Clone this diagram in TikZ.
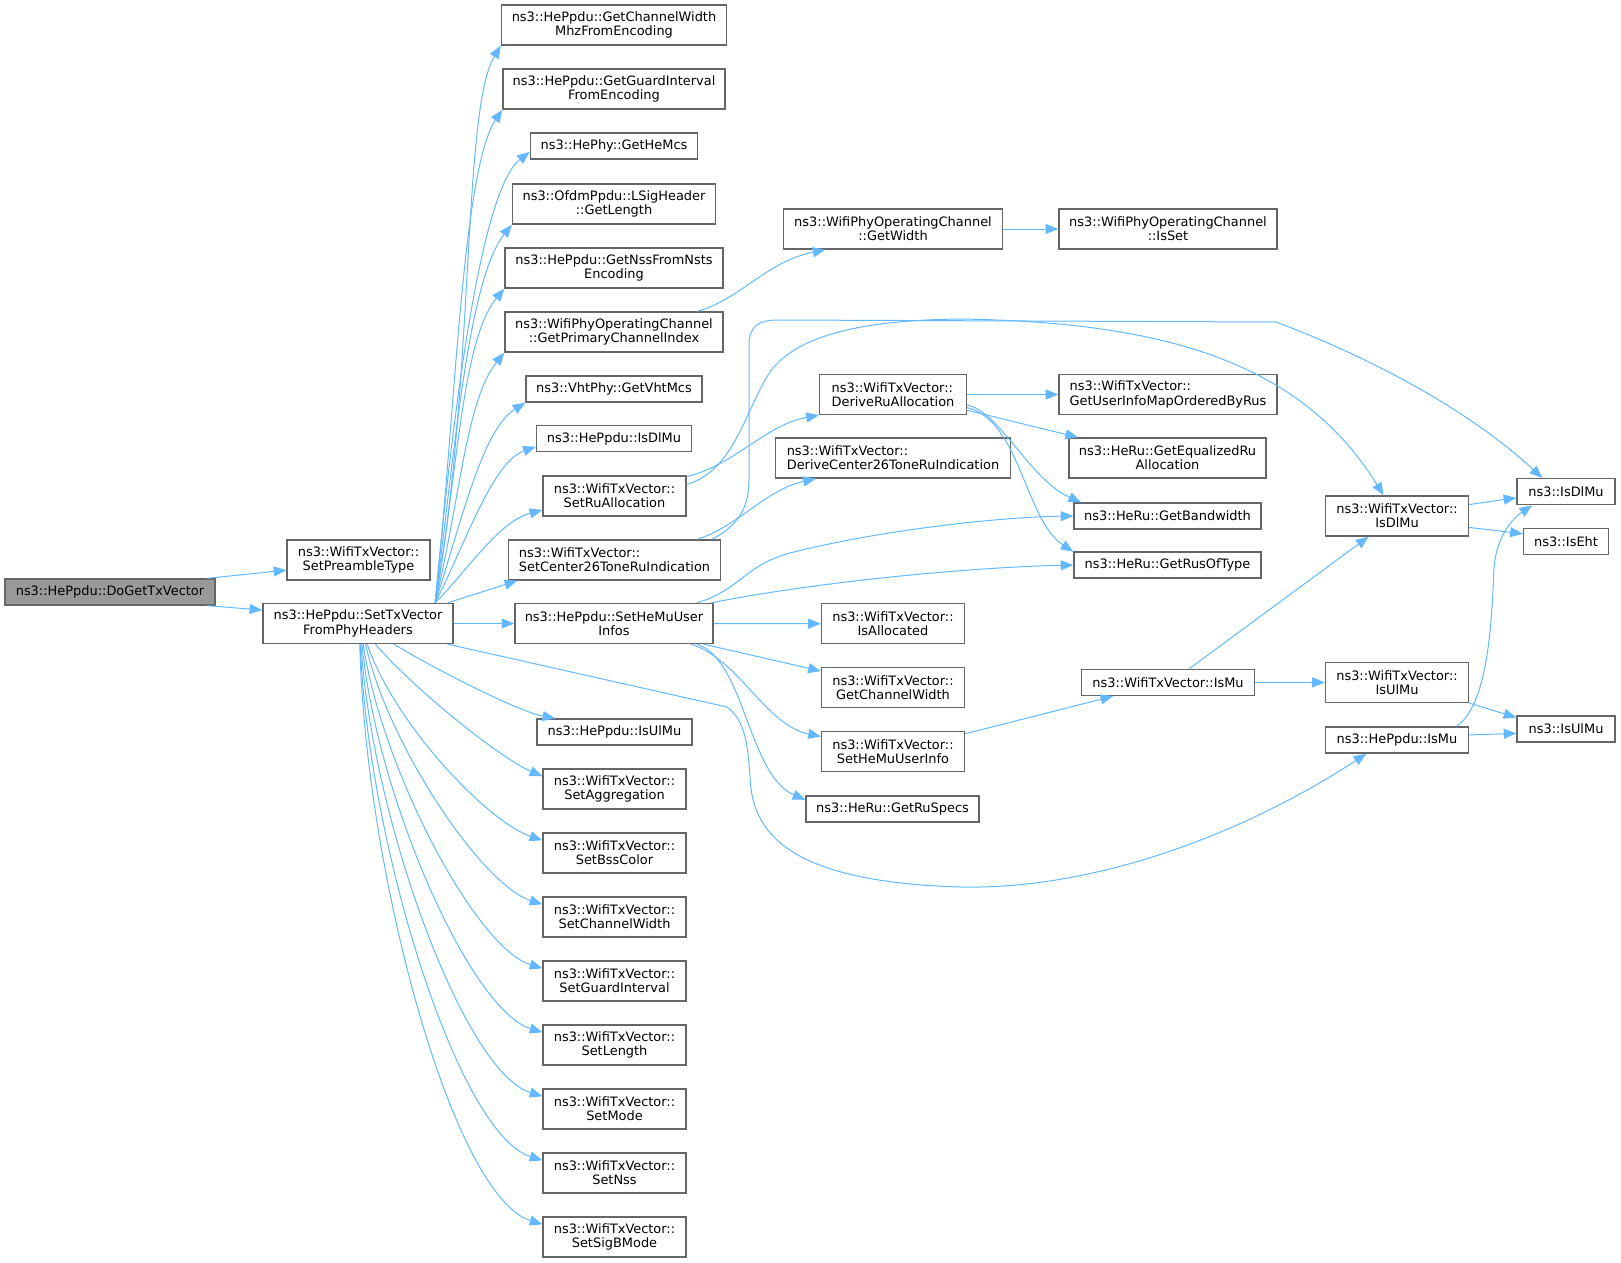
\documentclass[tikz,border=0pt]{standalone}
\usepackage{fontspec}
\setmainfont{DejaVu Sans}
\usetikzlibrary{arrows.meta}
\definecolor{edgeblue}{HTML}{63B8FF}
\definecolor{boxline}{HTML}{666666}
\definecolor{rootfill}{HTML}{999999}
\tikzset{
fn/.style={draw=boxline,line width=1pt,fill=white,align=center,inner sep=0pt,minimum height=30pt,font=\fontsize{9.7pt}{10.7pt}\selectfont},
one/.style={minimum height=19.5pt},
wd/.style={minimum width=#1*0.75pt},
call/.style={draw=edgeblue,line width=.75pt,-{Triangle[length=9.5pt,width=7.5pt]}}
}
\begin{document}
\begin{tikzpicture}[x=0.75pt,y=-0.75pt]
\useasboundingbox (0,0) rectangle (1621,1263);
\node[fn,one,wd=210,fill=rootfill] (dogettx) at (110,592) {ns3::HePpdu::DoGetTxVector};
\node[fn,wd=143] (setpre) at (358.5,560) {ns3::WifiTxVector::\\SetPreambleType};
\node[fn,wd=190] (settxv) at (358,623.5) {ns3::HePpdu::SetTxVector\\FromPhyHeaders};
\node[fn,wd=225] (chwmhz) at (614,25) {ns3::HePpdu::GetChannelWidth\\MhzFromEncoding};
\node[fn,wd=222] (guardenc) at (614,89) {ns3::HePpdu::GetGuardInterval\\FromEncoding};
\node[fn,one,wd=167] (hemcs) at (614,146) {ns3::HePhy::GetHeMcs};
\node[fn,wd=203] (lsig) at (614,204) {ns3::OfdmPpdu::LSigHeader\\::GetLength};
\node[fn,wd=218] (nssenc) at (614,268) {ns3::HePpdu::GetNssFromNsts\\Encoding};
\node[fn,wd=218] (primch) at (614,332) {ns3::WifiPhyOperatingChannel\\::GetPrimaryChannelIndex};
\node[fn,one,wd=176] (vhtmcs) at (614,389) {ns3::VhtPhy::GetVhtMcs};
\node[fn,one,wd=155] (hedlmu) at (614,438.5) {ns3::HePpdu::IsDlMu};
\node[fn,wd=143] (setru) at (614.5,496) {ns3::WifiTxVector::\\SetRuAllocation};
\node[fn,wd=212,align=left] (setc26) at (614.5,560) {ns3::WifiTxVector::\\SetCenter26ToneRuIndication};
\node[fn,wd=198] (sethemuinfos) at (614,623.5) {ns3::HePpdu::SetHeMuUser\\Infos};
\node[fn,one,wd=155] (heulmu) at (614.5,732) {ns3::HePpdu::IsUlMu};
\foreach \nm/\txt [count=\i from 0] in {setagg/SetAggregation,setbss/SetBssColor,setchw/SetChannelWidth,setgi/SetGuardInterval,setlen/SetLength,setmode/SetMode,setnss/SetNss,setsigb/SetSigBMode}
  \node[fn,wd=143] (\nm) at (614.5,789+64*\i) {ns3::WifiTxVector::\\\txt};
\node[fn,wd=219] (getwidth) at (893,229) {ns3::WifiPhyOperatingChannel\\::GetWidth};
\node[fn,wd=147,align=left] (derivru) at (893,394.5) {ns3::WifiTxVector::\\DeriveRuAllocation};
\node[fn,wd=235,align=left] (derivc26) at (893,458) {ns3::WifiTxVector::\\DeriveCenter26ToneRuIndication};
\node[fn,wd=143] (isalloc) at (893,623.7) {ns3::WifiTxVector::\\IsAllocated};
\node[fn,wd=143] (getchw) at (893,687.7) {ns3::WifiTxVector::\\GetChannelWidth};
\node[fn,wd=143] (sethemuinfo) at (893,751.8) {ns3::WifiTxVector::\\SetHeMuUserInfo};
\node[fn,one,wd=173] (getruspecs) at (892.5,809) {ns3::HeRu::GetRuSpecs};
\node[fn,wd=218] (isset) at (1168,229) {ns3::WifiPhyOperatingChannel\\::IsSet};
\node[fn,wd=218,align=left] (getuim) at (1168,394.5) {ns3::WifiTxVector::\\GetUserInfoMapOrderedByRus};
\node[fn,wd=197] (geteq) at (1167.5,458) {ns3::HeRu::GetEqualizedRu\\Allocation};
\node[fn,one,wd=187] (getbw) at (1167.5,516) {ns3::HeRu::GetBandwidth};
\node[fn,one,wd=187] (getrus) at (1167.5,565) {ns3::HeRu::GetRusOfType};
\node[fn,one,wd=173] (wtxismu) at (1168,682.5) {ns3::WifiTxVector::IsMu};
\node[fn,wd=143] (wtxisdlmu) at (1397,516) {ns3::WifiTxVector::\\IsDlMu};
\node[fn,wd=143] (wtxisulmu) at (1397,682.4) {ns3::WifiTxVector::\\IsUlMu};
\node[fn,one,wd=143] (heppduismu) at (1397,740) {ns3::HePpdu::IsMu};
\node[fn,one,wd=98] (isdlmu) at (1566,491.7) {ns3::IsDlMu};
\node[fn,one,wd=85] (iseht) at (1566,541.3) {ns3::IsEht};
\node[fn,one,wd=98] (isulmu) at (1566,729) {ns3::IsUlMu};
\draw[call] (dogettx.8)--(setpre.-172);
\draw[call] (dogettx.-8)--(settxv.172);
\draw[call] (settxv.15) .. controls (475,380) and (462,110) .. (chwmhz.south west);
\draw[call] (settxv.15) .. controls (455,420) and (462,170) .. (guardenc.south west);
\draw[call] (settxv.15) .. controls (452,420) and (480,190) .. (hemcs.-176);
\draw[call] (settxv.15) .. controls (455,450) and (468,280) .. (lsig.south west);
\draw[call] (settxv.15) .. controls (458,470) and (462,340) .. (nssenc.south west);
\draw[call] (settxv.15) .. controls (460,500) and (466,400) .. (primch.south west);
\draw[call] (settxv.15) .. controls (462,520) and (482,430) .. (vhtmcs.south west);
\draw[call] (settxv.15) .. controls (465,545) and (492,462) .. (hedlmu.-174);
\draw[call] (settxv.15) .. controls (468,570) and (498,522) .. (setru.-169);
\draw[call] (settxv.13)--(setc26.-168);
\draw[call] (settxv.east)--(sethemuinfos.west);
\draw[call] (settxv.-30) .. controls (440,672) and (520,712) .. (heulmu.167);
\draw[call] (settxv.-50) .. controls (415,690) and (500,758) .. (setagg.170);
\draw[call] (settxv.-66) .. controls (395,725) and (488,822) .. (setbss.170);
\draw[call] (settxv.-70) .. controls (388,745) and (482,885) .. (setchw.170);
\draw[call] (settxv.-76) .. controls (382,770) and (476,948) .. (setgi.170);
\draw[call] (settxv.-79) .. controls (376,795) and (470,1010) .. (setlen.170);
\draw[call] (settxv.-82) .. controls (372,820) and (464,1072) .. (setmode.170);
\draw[call] (settxv.-84) .. controls (368,845) and (458,1134) .. (setnss.170);
\draw[call] (settxv.-85) .. controls (365,870) and (452,1196) .. (setsigb.170);
\draw[call] (settxv.-13)--(727,707) .. controls (745,720) and (748,745) .. (750,777) .. controls (752,840) and (800,882) .. (960,887) .. controls (1100,890) and (1250,830) .. (heppduismu.-156);
\draw[call] (primch.14) .. controls (740,300) and (765,262) .. (getwidth.-163);
\draw[call] (getwidth.east)--(isset.west);
\draw[call] (setru.15) .. controls (735,465) and (765,425) .. (derivru.south west);
\draw[call] (setru.9) .. controls (735,470) and (745,410) .. (770,372) .. controls (800,330) and (880,320) .. (960,319) .. controls (1160,322) and (1300,360) .. (wtxisdlmu.123);
\draw[call] (setc26.14) .. controls (740,525) and (765,490) .. (derivc26.-165);
\draw[call] (setc26.12) .. controls (740,525) and (749,505) .. (749,480)--(749,345) .. controls (749,325) and (760,320) .. (778,320)--(1276,322) .. controls (1390,365) and (1480,420) .. (isdlmu.150);
\draw[call] (derivru.east)--(getuim.west);
\draw[call] (derivru.-12)--(geteq.167);
\draw[call] (derivru.-8) .. controls (1000,412) and (1030,480) .. (getbw.171);
\draw[call] (derivru.-10) .. controls (1020,420) and (1025,520) .. (getrus.172);
\draw[call] (sethemuinfos.14) .. controls (740,590) and (745,565) .. (790,553) .. controls (880,530) and (1000,517) .. (getbw.west);
\draw[call] (sethemuinfos.12) .. controls (800,585) and (950,568) .. (getrus.west);
\draw[call] (sethemuinfos.east)--(isalloc.west);
\draw[call] (sethemuinfos.-13)--(getchw.167);
\draw[call] (sethemuinfos.-15) .. controls (740,660) and (765,725) .. (sethemuinfo.168);
\draw[call] (sethemuinfos.-14) .. controls (745,660) and (748,775) .. (getruspecs.174);
\draw[call] (sethemuinfo.14)--(wtxismu.-166);
\draw[call] (wtxismu.33)--(wtxisdlmu.-144);
\draw[call] (wtxismu.east)--(wtxisulmu.west);
\draw[call] (wtxisdlmu.9)--(isdlmu.187);
\draw[call] (wtxisdlmu.-9)--(iseht.170);
\draw[call] (wtxisulmu.south east)--(isulmu.167);
\draw[call] (heppduismu.4)--(isulmu.185);
\draw[call] (heppduismu.13) .. controls (1490,705) and (1492,610) .. (1494,568) .. controls (1496,540) and (1510,520) .. (isdlmu.-158);
\end{tikzpicture}
\end{document}
